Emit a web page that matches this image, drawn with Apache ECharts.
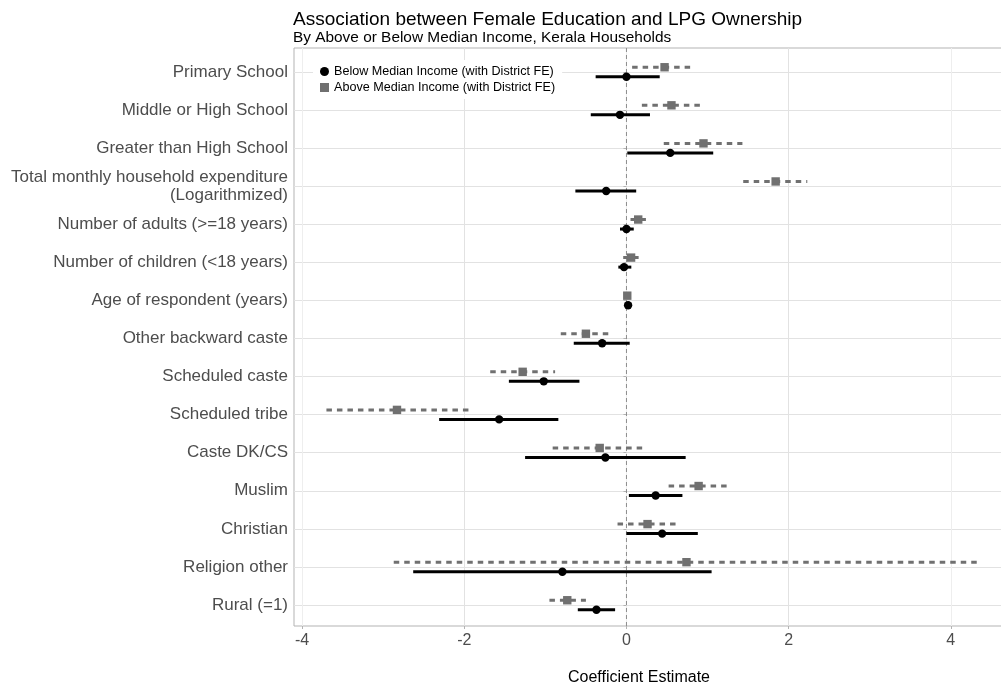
<!DOCTYPE html>
<html>
<head>
<meta charset="utf-8">
<script src="https://cdn.jsdelivr.net/npm/echarts@6/dist/echarts.min.js"></script>
<style>
  html, body { margin: 0; padding: 0; background: #fff; }
  #chart { width: 1001px; height: 688px; }
</style>
</head>
<body>
<div id="chart"></div>
<script>
const categories = [
  'Primary School',
  'Middle or High School',
  'Greater than High School',
  'Total monthly household expenditure\n(Logarithmized)',
  'Number of adults (>=18 years)',
  'Number of children (<18 years)',
  'Age of respondent (years)',
  'Other backward caste',
  'Scheduled caste',
  'Scheduled tribe',
  'Caste DK/CS',
  'Muslim',
  'Christian',
  'Religion other',
  'Rural (=1)'
];
const belowEst = [0.00, -0.08, 0.54, -0.25, 0.00, -0.03, 0.02, -0.30, -1.02, -1.57, -0.26, 0.36, 0.44, -0.79, -0.37];
const belowLo  = [-0.38, -0.44, 0.01, -0.63, -0.08, -0.10, 0.00, -0.65, -1.45, -2.31, -1.25, 0.03, 0.00, -2.63, -0.60];
const belowHi  = [0.41, 0.29, 1.07, 0.12, 0.09, 0.06, 0.04, 0.04, -0.58, -0.84, 0.73, 0.69, 0.88, 1.05, -0.14];
const aboveEst = [0.47, 0.555, 0.95, 1.84, 0.145, 0.057, 0.01, -0.50, -1.28, -2.83, -0.33, 0.89, 0.26, 0.74, -0.73];
const aboveLo  = [0.07, 0.19, 0.46, 1.44, 0.05, -0.04, 0.00, -0.81, -1.68, -3.70, -0.91, 0.52, -0.11, -2.87, -0.95];
const aboveHi  = [0.81, 0.93, 1.43, 2.23, 0.24, 0.15, 0.02, -0.22, -0.88, -1.94, 0.24, 1.25, 0.63, 4.33, -0.50];
const xTickValues = [-4, -2, 0, 2, 4];
const zeroLine = 0;
const seriesNames = ['Below Median Income (with District FE)', 'Above Median Income (with District FE)'];

const FONT = 'Liberation Sans, Arial, sans-serif';
const BLACK = '#000000';
const GREY = '#707070';
const X_MIN = -4.1, X_MAX = 4.73;

function rows(est, lo, hi) {
  return est.map((v, i) => [v, i, lo[i], hi[i]]);
}

function makeRender(offset, shape, color, dash) {
  return function (params, api) {
    const y = api.value(1) + offset;
    const p = api.coord([api.value(0), y]);
    const a = api.coord([api.value(2), y]);
    const b = api.coord([api.value(3), y]);
    const marker = shape === 'circle'
      ? { type: 'circle', shape: { cx: p[0], cy: p[1], r: 4.2 }, style: { fill: color } }
      : { type: 'rect', shape: { x: p[0] - 4.2, y: p[1] - 4.2, width: 8.4, height: 8.4 }, style: { fill: color } };
    return {
      type: 'group',
      children: [
        { type: 'line', shape: { x1: a[0], y1: a[1], x2: b[0], y2: b[1] },
          style: { stroke: color, lineWidth: 3, lineDash: dash, lineCap: 'butt' } },
        marker
      ]
    };
  };
}

const chart = echarts.init(document.getElementById('chart'), null, { renderer: 'canvas' });
chart.setOption({
  animation: false,
  backgroundColor: '#ffffff',
  textStyle: { fontFamily: FONT },
  title: [
    { text: 'Association between Female Education and LPG Ownership', left: 293, top: 10, padding: 0,
      textStyle: { fontFamily: FONT, fontSize: 19, fontWeight: 'normal', color: '#000' } },
    { text: 'By Above or Below Median Income, Kerala Households', left: 293, top: 30, padding: 0,
      textStyle: { fontFamily: FONT, fontSize: 15.4, fontWeight: 'normal', color: '#000' } },
    { text: 'Coefficient Estimate', left: 639, top: 670, textAlign: 'center', padding: 0,
      textStyle: { fontFamily: FONT, fontSize: 16, fontWeight: 'normal', color: '#000' } }
  ],
  legend: {
    left: 313, top: 60, orient: 'vertical',
    backgroundColor: '#ffffff',
    padding: [4, 7, 4, 7],
    itemWidth: 9, itemHeight: 9, itemGap: 1,
    textStyle: { fontFamily: FONT, fontSize: 12.6, color: '#000', lineHeight: 15 },
    data: [
      { name: seriesNames[0], icon: 'circle', itemStyle: { color: BLACK } },
      { name: seriesNames[1], icon: 'rect', itemStyle: { color: GREY } }
    ]
  },
  grid: [
    { left: 294, width: 716, top: 72, bottom: 83, show: false, outerBoundsMode: 'none' },
    { left: 294, width: 716, top: 48, bottom: 62, show: true, borderColor: '#b3b3b3', borderWidth: 1,
      backgroundColor: 'transparent', outerBoundsMode: 'none' }
  ],
  xAxis: [
    { type: 'value', gridIndex: 0, min: X_MIN, max: X_MAX, show: false },
    { type: 'value', gridIndex: 1, min: X_MIN, max: X_MAX, minInterval: 1, maxInterval: 1,
      axisLine: { show: false },
      axisTick: { show: true, length: 3, lineStyle: { color: '#b3b3b3' }, customValues: xTickValues },
      axisLabel: { customValues: xTickValues, margin: 7, fontSize: 16, color: '#4d4d4d', fontFamily: FONT },
      splitLine: { show: true, lineStyle: { color: ['#eeeeee', '#e2e2e2'], width: 1 } }
    }
  ],
  yAxis: [
    { type: 'value', gridIndex: 0, min: 0, max: categories.length - 1, interval: 1, inverse: true,
      axisLine: { show: false },
      axisTick: { show: true, length: 3, lineStyle: { color: '#b3b3b3' } },
      axisLabel: { margin: 6, fontSize: 17, color: '#4d4d4d', fontFamily: FONT, lineHeight: 18,
        padding: [2, 0, 0, 0],
        align: 'right', formatter: v => categories[Math.round(v)] || '' },
      splitLine: { show: true, lineStyle: { color: '#e2e2e2', width: 1 } }
    },
    { type: 'value', gridIndex: 1, min: 0, max: 1, show: false }
  ],
  series: [
    { type: 'line', xAxisIndex: 1, yAxisIndex: 1, data: [[zeroLine, 0], [zeroLine, 1]],
      symbol: 'none', silent: true, z: 2,
      lineStyle: { color: '#8c8c8c', width: 1, type: [4, 3] } },
    { name: seriesNames[1], type: 'custom', xAxisIndex: 0, yAxisIndex: 0, z: 3,
      itemStyle: { color: GREY },
      encode: { x: [0, 2, 3], y: 1 },
      renderItem: makeRender(-0.125, 'rect', GREY, [5.5, 5]),
      data: rows(aboveEst, aboveLo, aboveHi) },
    { name: seriesNames[0], type: 'custom', xAxisIndex: 0, yAxisIndex: 0, z: 4,
      itemStyle: { color: BLACK },
      encode: { x: [0, 2, 3], y: 1 },
      renderItem: makeRender(0.125, 'circle', BLACK, null),
      data: rows(belowEst, belowLo, belowHi) }
  ]
});
</script>
</body>
</html>
